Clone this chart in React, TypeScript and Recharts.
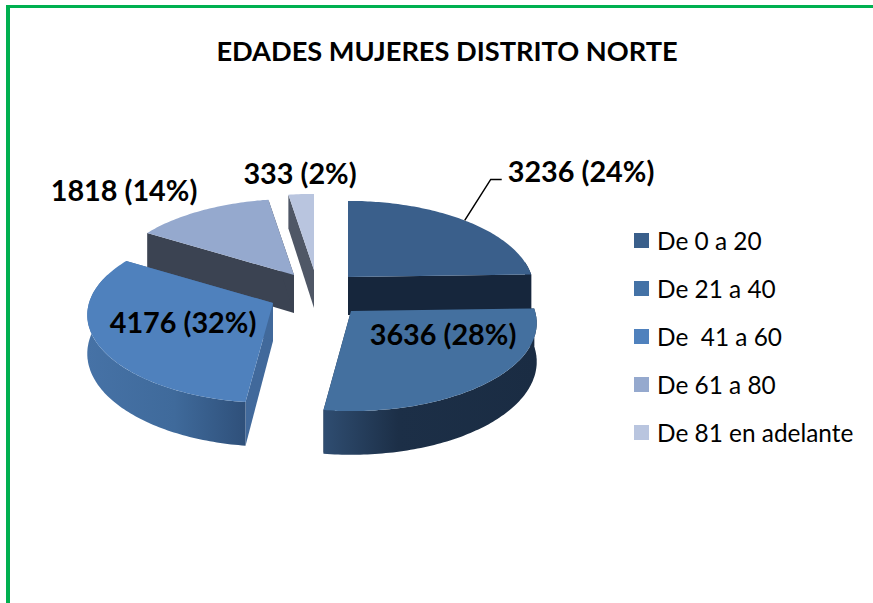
import { Legend, Pie, PieChart } from 'recharts';

const CATEGORIES = ['De 0 a 20', 'De 21 a 40', 'De  41 a 60', 'De 61 a 80', 'De 81 en adelante'];
const VALUES = [3236, 3636, 4176, 1818, 333];
const PERCENTS = [24, 28, 32, 14, 2];

// top faces, and the walls below them
const TOP_COLORS = ['#3A5F8B', '#44709F', '#4F81BD', '#95A9CE', '#B9C5DF'];
const LEGEND_COLORS = ['#3A5F8B', '#4472A6', '#4F81BD', '#95A9CE', '#B9C5DF'];
const WALL_FROM = ['#16263C', '#2F4D71', '#4672A6', '#3B4352', '#4F5766'];
const WALL_MID = ['#16263C', '#1C2F47', '#3F6A9B', '#3B4352', '#4F5766'];
const WALL_TO = ['#16263C', '#1A2C43', '#2F507A', '#3B4352', '#4F5766'];
const CUT_COLORS = ['#16263C', '#1A2C43', '#41699B', '#3B4352', '#4F5766'];

// how far each slice is pulled out of the pie
const EXPLODE_X = [0, 3, -75, -54, -34];
const EXPLODE_Y = [0, 34, 26, -2, -7];
const LABEL_X = [233, 92, -90, -170, -14];
const LABEL_Y = [-106, 23, 19, -85, -97];

// painter's order: back slices first
const DRAW_ORDER = [3, 4, 0, 1, 2];

const CX = 348;
const CY = 277;
const RADIUS = 184;
const SQUASH = 0.47;
const PERSPECTIVE = 0.136;
const DEPTH = 38;
const FONT = 'Lato, sans-serif';

const total = VALUES.reduce((a, b) => a + b, 0);
const START_ANGLE = 90 + ((VALUES[3] + VALUES[4]) / total) * 360;
const tableData = DRAW_ORDER.map((i) => ({ name: CATEGORIES[i], value: VALUES[i] }));

// disc point -> screen, far side a bit smaller than the near side
function project(ox: number, oy: number, r: number, angle: number, drop = 0) {
  const a = (angle * Math.PI) / 180;
  const u = Math.cos(a) * (r / RADIUS);
  const v = Math.sin(a) * (r / RADIUS);
  const den = 1 + PERSPECTIVE * v;
  return {
    x: ox + (RADIUS * u) / den,
    y: oy - (RADIUS * SQUASH * v) / den + (drop ? drop / (1 + 0.13 * v) : 0),
  };
}

const toPath = (pts: { x: number; y: number }[]) =>
  'M' + pts.map((p) => `${p.x.toFixed(1)},${p.y.toFixed(1)}`).join('L') + 'Z';

function arc(ox: number, oy: number, from: number, to: number, drop = 0) {
  const steps = Math.max(2, Math.ceil(Math.abs(to - from)));
  const pts = [];
  for (let s = 0; s <= steps; s++) {
    pts.push(project(ox, oy, RADIUS, from + ((to - from) * s) / steps, drop));
  }
  return pts;
}

function Slice(props: any) {
  const { name, startAngle, endAngle, cx, cy } = props;
  const i = CATEGORIES.indexOf(name);
  const ox = cx + EXPLODE_X[i];
  const oy = cy + EXPLODE_Y[i];
  const apex = { x: ox, y: oy };
  const apexLow = { x: ox, y: oy + DEPTH };

  const cut = (angle: number) =>
    toPath([apex, project(ox, oy, RADIUS, angle), project(ox, oy, RADIUS, angle, DEPTH), apexLow]);

  // outer wall: only the part on the near side of the disc shows
  const lo = Math.min(startAngle, endAngle);
  const hi = Math.max(startAngle, endAngle);
  const wallLo = Math.max(lo, -200);
  const wallHi = Math.min(hi, 10);
  const hasWall = wallHi > wallLo;
  const top = arc(ox, oy, wallLo, wallHi);
  const low = arc(ox, oy, wallLo, wallHi, DEPTH).reverse();

  return (
    <g>
      <defs>
        <linearGradient id={`wall-${i}`} x1="0" y1="0" x2="1" y2="0">
          <stop offset="0" stopColor={WALL_FROM[i]} />
          <stop offset={i === 1 ? 0.35 : 0.55} stopColor={WALL_MID[i]} />
          <stop offset="1" stopColor={WALL_TO[i]} />
        </linearGradient>
      </defs>
      <path d={cut(startAngle)} fill={CUT_COLORS[i]} />
      <path d={cut(endAngle)} fill={CUT_COLORS[i]} />
      {hasWall && <path d={toPath([...top, ...low])} fill={`url(#wall-${i})`} />}
      <path d={toPath([apex, ...arc(ox, oy, startAngle, endAngle)])} fill={TOP_COLORS[i]} />
    </g>
  );
}

function SliceLabel(props: any) {
  const { name, value, cx, cy, midAngle } = props;
  const i = CATEGORIES.indexOf(name);
  const ox = cx + EXPLODE_X[i];
  const oy = cy + EXPLODE_Y[i];
  const tip = project(ox, oy, RADIUS, midAngle);
  return (
    <g>
      {i === 0 && (
        <polyline
          points={`${tip.x},${tip.y} ${tip.x + 26},${tip.y - 41} ${tip.x + 37},${tip.y - 41}`}
          fill="none"
          stroke="#000"
          strokeWidth={1.5}
        />
      )}
      <text
        x={ox + LABEL_X[i]}
        y={oy + LABEL_Y[i]}
        textAnchor="middle"
        dominantBaseline="central"
        fontFamily={FONT}
        fontWeight={700}
        fontSize={28.8}
        fill="#000"
      >
        {`${value} (${PERCENTS[i]}%)`}
      </text>
    </g>
  );
}

function LegendList() {
  return (
    <div>
      {CATEGORIES.map((c, i) => (
        <div key={c} style={{ display: 'flex', alignItems: 'center', height: 48 }}>
          <span style={{ width: 15, height: 15, background: LEGEND_COLORS[i], marginRight: 8 }} />
          <span style={{ fontFamily: FONT, fontSize: 24.4, color: '#000', whiteSpace: 'pre' }}>{c}</span>
        </div>
      ))}
    </div>
  );
}

export default function App() {
  return (
    <div style={{ position: 'absolute', left: 0, top: 0, width: 873, height: 603, overflow: 'hidden', background: '#fff' }}>
      <div style={{ position: 'absolute', left: 6, top: 5, right: 0, height: 3, background: '#00B050' }} />
      <div style={{ position: 'absolute', left: 6, top: 5, bottom: 0, width: 4, background: '#00B050' }} />
      <div
        style={{
          position: 'absolute',
          left: 216,
          top: 33,
          width: 462,
          textAlign: 'center',
          fontFamily: FONT,
          fontWeight: 700,
          fontSize: 27.2,
          lineHeight: '36px',
          whiteSpace: 'nowrap',
          color: '#000',
        }}
      >
        EDADES MUJERES DISTRITO NORTE
      </div>
      <PieChart width={873} height={603} margin={{ top: 0, right: 0, bottom: 0, left: 0 }} style={{ position: 'absolute', left: 0, top: 0 }}>
        <Pie
          data={tableData}
          dataKey="value"
          nameKey="name"
          cx={CX}
          cy={CY}
          innerRadius={0}
          outerRadius={RADIUS}
          startAngle={START_ANGLE}
          endAngle={START_ANGLE - 360}
          stroke="none"
          shape={Slice}
          label={SliceLabel}
          labelLine={false}
          isAnimationActive={false}
        />
        <Legend
          layout="vertical"
          align="center"
          verticalAlign="middle"
          content={<LegendList />}
          wrapperStyle={{ left: 634, top: 216, width: 235 }}
        />
      </PieChart>
    </div>
  );
}
